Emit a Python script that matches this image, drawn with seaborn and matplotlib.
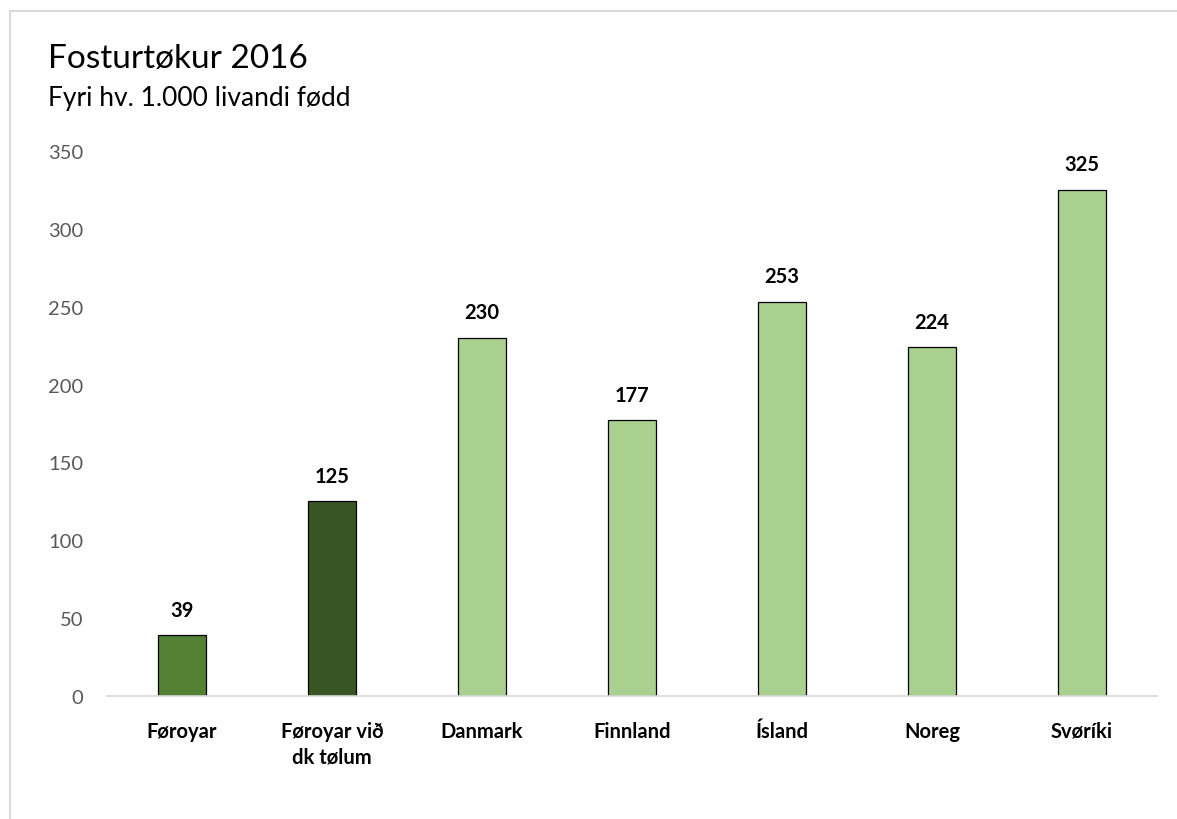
import matplotlib
matplotlib.use("Agg")
import matplotlib.pyplot as plt
import seaborn as sns
import pandas as pd
from matplotlib.patches import Rectangle

# Data
lond = ["Føroyar", "Føroyar við\ndk tølum", "Danmark", "Finnland", "Ísland", "Noreg", "Svøríki"]
virdi = [39, 125, 230, 177, 253, 224, 325]
litir = ["#548235", "#375623", "#A9D08E", "#A9D08E", "#A9D08E", "#A9D08E", "#A9D08E"]

df = pd.DataFrame({"land": lond, "virdi": virdi})

sns.set_theme(style="white")
plt.rcParams["font.family"] = ["Lato", "DejaVu Sans"]

fig = plt.figure(figsize=(11.77, 8.2), dpi=100)
ax = fig.add_axes([107 / 1177, 1 - 697 / 820, 1050 / 1177, 545 / 820])

sns.barplot(data=df, x="land", y="virdi", hue="land", palette=litir, legend=False,
            width=0.32, edgecolor="black", linewidth=0.9, saturation=1, ax=ax)

ax.set_xlim(-0.5, len(lond) - 0.5)
ax.set_ylim(0, 350)
ax.set_yticks(range(0, 351, 50))
ax.set_xlabel("")
ax.set_ylabel("")

# value labels above bars
for i, v in enumerate(virdi):
    ax.text(i, v + 10, str(v), ha="center", va="bottom", fontsize=14.5, fontweight="bold", color="black")

for s in ["top", "right", "left"]:
    ax.spines[s].set_visible(False)
ax.spines["bottom"].set_color("#D9D9D9")
ax.spines["bottom"].set_linewidth(1.2)
ax.tick_params(axis="both", length=0)
ax.tick_params(axis="y", labelsize=14.5, labelcolor="#595959", pad=17)
ax.tick_params(axis="x", labelsize=14.5, pad=18)
for t in ax.get_xticklabels():
    t.set_fontweight("bold")
    t.set_color("black")
    t.set_va("top")
    t.set_linespacing(1.35)

fig.text(48 / 1177, 1 - 68 / 820, "Fosturtøkur 2016", fontsize=24, color="black", va="baseline")
fig.text(48 / 1177, 1 - 106 / 820, "Fyri hv. 1.000 livandi fødd", fontsize=19, color="black", va="baseline")

# light chart frame
fig.patches.append(Rectangle((10 / 1177, -0.1), 1.2, 1 - 12 / 820 + 0.1, transform=fig.transFigure,
                             fill=False, edgecolor="#D9D9D9", linewidth=1.5))

fig.savefig("out.png", dpi=100)
